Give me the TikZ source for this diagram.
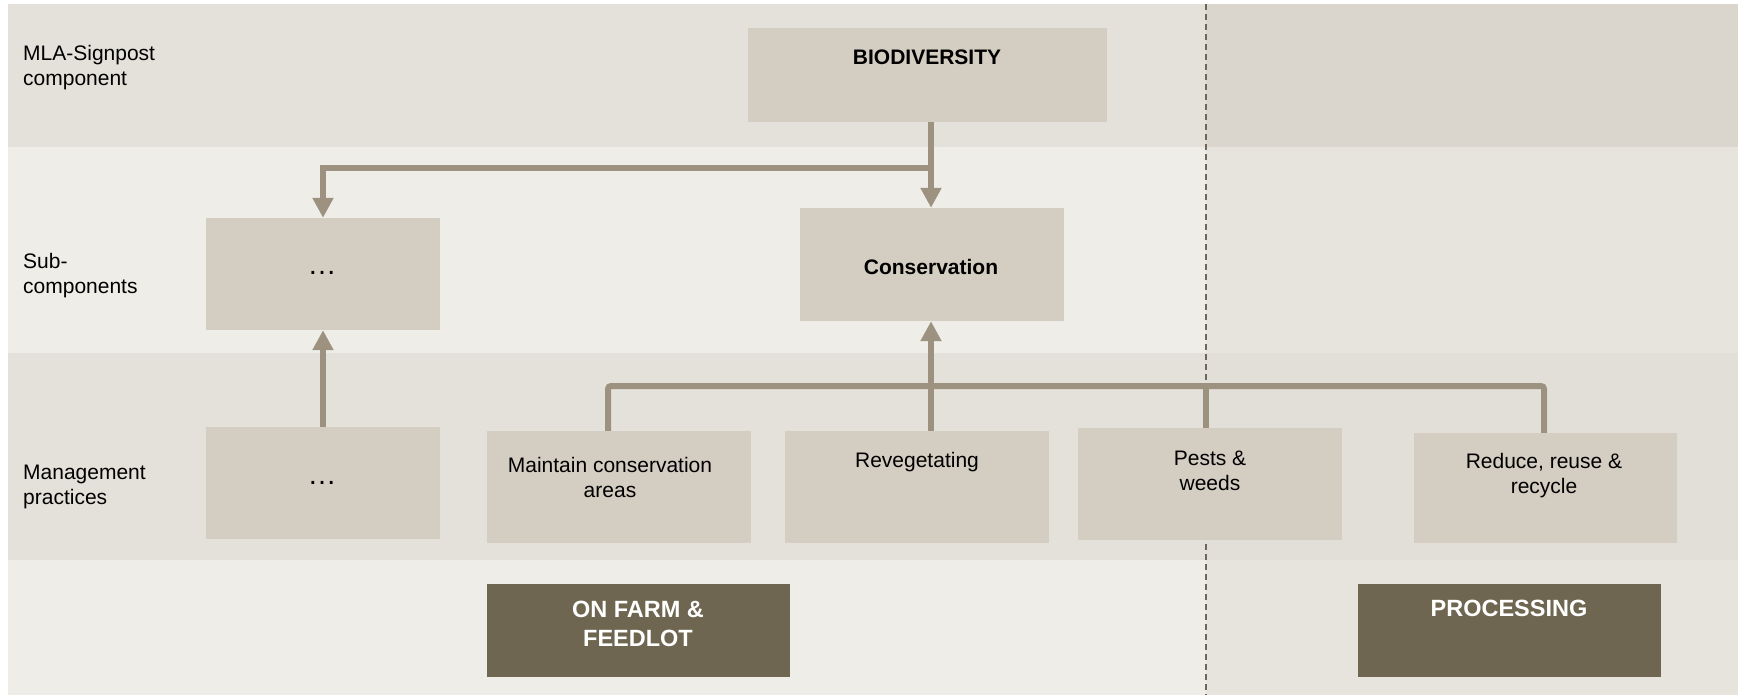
\documentclass[tikz,border=0pt]{standalone}
\usepackage{fontspec}
\setmainfont{Liberation Sans}
\usetikzlibrary{arrows.meta,fit,calc}
\definecolor{bgplain}{HTML}{EFEDE8}
\definecolor{bgpat}{HTML}{E4E1DA}
\definecolor{bgright}{HTML}{E7E4DE}
\definecolor{bgrightmid}{HTML}{E2DFD8}
\definecolor{bgrighttop}{HTML}{DAD6CD}
\definecolor{boxfill}{HTML}{D4CDC1}
\definecolor{conncol}{HTML}{9D9280}
\definecolor{darkbox}{HTML}{6E6650}
\definecolor{divcol}{HTML}{6E6656}
\begin{document}
\begin{tikzpicture}[x=1pt,y=-1pt,
  box/.style={fill=boxfill, draw=none, inner sep=0pt},
  darkbx/.style={fill=darkbox, draw=none, inner sep=0pt},
  txt/.style={font=\fontsize{21}{25}\selectfont, align=center, inner sep=0pt, text=black},
  txtb/.style={font=\bfseries\fontsize{21}{25}\selectfont, align=center, inner sep=0pt, text=black},
  dots/.style={font=\fontsize{29}{30}\selectfont, inner sep=0pt, text=black},
  wtxt/.style={font=\bfseries\fontsize{23.5}{29}\selectfont, align=center, inner sep=0pt, text=white},
  lbl/.style={font=\fontsize{21}{25}\selectfont, align=left, inner sep=0pt, anchor=west},
  conn/.style={draw=conncol, line width=6pt},
  arr/.style={conn, -{Triangle[width=20pt,length=20pt]}},
]
\useasboundingbox (0,0) rectangle (1738,697);
\fill[white] (0,0) rectangle (1738,697);
% background bands
\fill[bgplain] (8,4) rectangle (1738,695);
\fill[bgpat] (8,4) rectangle (1206,147);
\fill[bgpat] (8,353) rectangle (1206,560);
\fill[bgright] (1206,4) rectangle (1738,695);
\fill[bgrightmid] (1206,353) rectangle (1738,560);
\fill[bgrighttop] (1206,4) rectangle (1738,147);
% divider
\coordinate (dtop) at (1206,4);
\coordinate (dbot) at (1206,695);
\draw[divcol, line width=1.2pt, dash pattern=on 6pt off 4pt] (dtop) -- (dbot);

% row labels
\node[lbl] (l1) at (23,68) {MLA-Signpost\\component};
\node[lbl] (l2) at (23,276) {Sub-\\components};
\node[lbl] (l3) at (23,487) {Management\\practices};

% boxes
\node[box, fit={(748,28)(1107,122)}] (bio) {};
\node[box, fit={(800,208)(1064,321)}] (cons) {};
\node[box, fit={(206,218)(440,330)}] (sub1) {};
\node[box, fit={(206,427)(440,539)}] (mp1) {};
\node[box, fit={(487,431)(751,543)}] (mp2) {};
\node[box, fit={(785,431)(1049,543)}] (mp3) {};
\node[box, fit={(1078,428)(1342,540)}] (mp4) {};
\node[box, fit={(1414,433)(1677,543)}] (mp5) {};
\node[darkbx, fit={(487,584)(790,677)}] (farm) {};
\node[darkbx, fit={(1358,584)(1661,677)}] (proc) {};

% texts (base anchor = baseline of the last line)
\node[txtb, anchor=base] (tbio) at (927,64) {BIODIVERSITY};
\node[txtb, anchor=base] (tcons) at (931,274) {Conservation};
\node[dots, anchor=base] (tsub1) at (322,274) {\char"2026};
\node[dots, anchor=base] (tmp1) at (322,484) {\char"2026};
\node[txt, anchor=base] (tmp2) at (610,497) {Maintain conservation\\areas};
\node[txt, anchor=base] (tmp3) at (917,467) {Revegetating};
\node[txt, anchor=base] (tmp4) at (1210,490) {Pests \&\\weeds};
\node[txt, anchor=base] (tmp5) at (1544,493) {Reduce, reuse \&\\recycle};
\node[wtxt, anchor=base] (tfarm) at (638,646) {ON FARM \&\\FEEDLOT};
\node[wtxt, anchor=base] (tproc) at (1509,616) {PROCESSING};

% connectors
\coordinate (j1) at (931,168);
\coordinate (bus) at (0,386);
\coordinate (c2) at (608,0);
\coordinate (c5) at (1544,0);
\draw[arr] (bio.south -| tcons.base) -- (cons.north -| tcons.base);
\draw[arr] (j1) -| (sub1.north);
\draw[arr] (mp1.north) -- (sub1.south);
\draw[arr] (mp3.north -| tcons.base) -- (cons.south -| tcons.base);
\draw[conn, rounded corners=3pt] (mp2.north -| c2) -- (c2 |- bus) -- (c5 |- bus) -- (mp5.north -| c5);
\draw[conn] (mp4.north -| dtop) -- (dtop |- bus);
\end{tikzpicture}
\end{document}
